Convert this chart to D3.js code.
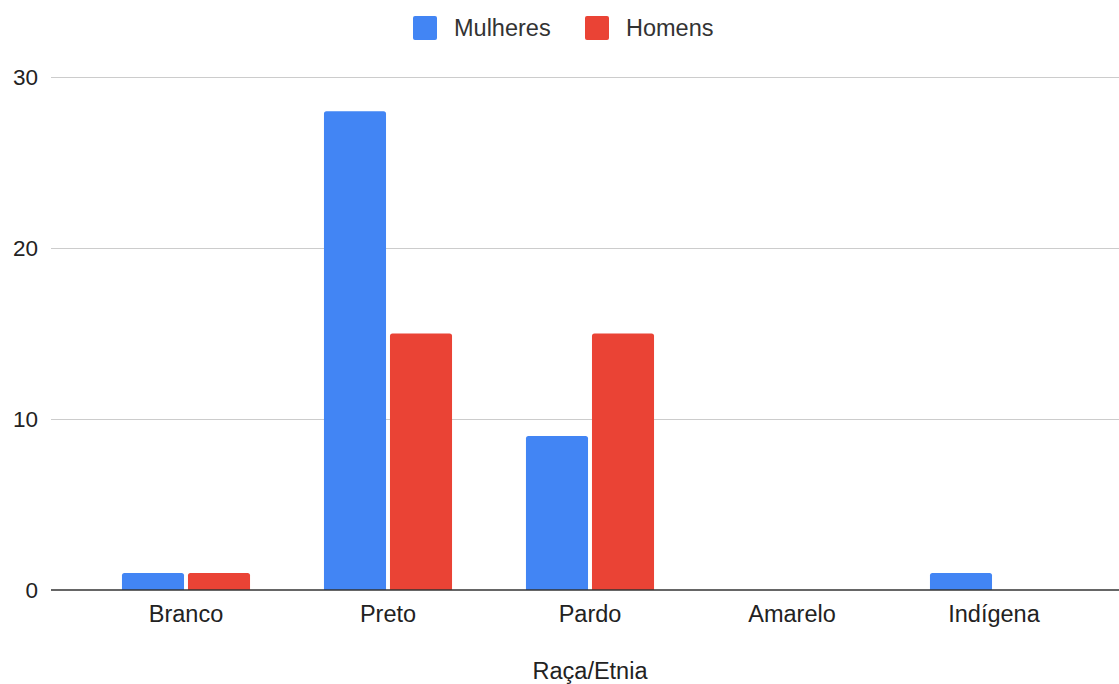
<!DOCTYPE html>
<html>
<head>
<meta charset="utf-8">
<script src="https://cdnjs.cloudflare.com/ajax/libs/d3/7.8.5/d3.min.js"></script>
<style>
  html, body { margin: 0; padding: 0; background: #fff; }
  svg { display: block; font-family: "Liberation Sans", Arial, sans-serif; }
</style>
</head>
<body>
<svg id="chart" width="1119" height="684"></svg>
<script>
// Number of people by race/ethnicity, split by gender
const categories = ["Branco", "Preto", "Pardo", "Amarelo", "Indígena"];
const seriesNames = ["Mulheres", "Homens"];
const mulheres = [1, 28, 9, 0, 1];
const homens = [1, 15, 15, 0, 0];
const yTicks = [0, 10, 20, 30];
const colors = ["#4285F4", "#EA4335"];
const axisTitle = "Raça/Etnia";

const seriesValues = [mulheres, homens];

const svg = d3.select("#chart");

const plot = { left: 51, right: 1119, top: 77, bottom: 590 };

const y = d3.scaleLinear().domain([0, 30]).range([plot.bottom, plot.top]);

const x0 = d3.scaleBand()
  .domain(categories)
  .range([85, 1095])
  .paddingInner(0.366)
  .paddingOuter(0.183);

const x1 = d3.scaleBand()
  .domain(seriesNames)
  .range([0, x0.bandwidth()])
  .paddingInner(0.06)
  .paddingOuter(0);

// gridlines
svg.append("g")
  .selectAll("line")
  .data(yTicks.filter(d => d !== 0))
  .join("line")
  .attr("x1", plot.left).attr("x2", plot.right)
  .attr("y1", d => Math.round(y(d)) + 0.5)
  .attr("y2", d => Math.round(y(d)) + 0.5)
  .attr("stroke", "#cccccc")
  .attr("stroke-width", 1);

// y tick labels
svg.append("g")
  .selectAll("text")
  .data(yTicks)
  .join("text")
  .attr("x", 38)
  .attr("y", d => y(d))
  .attr("dy", "0.35em")
  .attr("text-anchor", "end")
  .attr("font-size", 22.5)
  .attr("fill", "#222")
  .text(d => d);

// bars with slightly rounded top corners
function barPath(xp, w, yTop, yBase, r) {
  const h = yBase - yTop;
  if (h <= 0) return "";
  const rr = Math.min(r, h, w / 2);
  return `M${xp},${yBase}V${yTop + rr}Q${xp},${yTop} ${xp + rr},${yTop}` +
    `H${xp + w - rr}Q${xp + w},${yTop} ${xp + w},${yTop + rr}V${yBase}Z`;
}

const groups = svg.append("g")
  .selectAll("g")
  .data(categories)
  .join("g")
  .attr("transform", d => `translate(${x0(d)},0)`);

groups.selectAll("path")
  .data((c, i) => seriesNames.map((s, j) => ({ s, j, v: seriesValues[j][i] })))
  .join("path")
  .attr("d", d => barPath(x1(d.s), x1.bandwidth(), y(d.v), y(0), 2.5))
  .attr("fill", d => colors[d.j]);

// baseline
svg.append("line")
  .attr("x1", plot.left).attr("x2", plot.right)
  .attr("y1", y(0)).attr("y2", y(0))
  .attr("stroke", "#333")
  .attr("stroke-width", 1.5);

// x category labels
svg.append("g")
  .selectAll("text")
  .data(categories)
  .join("text")
  .attr("x", d => x0(d) + x0.bandwidth() / 2)
  .attr("y", 622)
  .attr("text-anchor", "middle")
  .attr("font-size", 23.5)
  .attr("fill", "#222")
  .text(d => d);

// axis title
svg.append("text")
  .attr("x", 590)
  .attr("y", 679)
  .attr("text-anchor", "middle")
  .attr("font-size", 23.5)
  .attr("fill", "#222")
  .text(axisTitle);

// legend
const legendX = [413, 585];
const legend = svg.append("g")
  .selectAll("g")
  .data(seriesNames)
  .join("g")
  .attr("transform", (d, i) => `translate(${legendX[i]},16)`);

legend.append("rect")
  .attr("width", 24).attr("height", 24)
  .attr("rx", 2)
  .attr("fill", (d, i) => colors[i]);

legend.append("text")
  .attr("x", 41)
  .attr("y", 12)
  .attr("dy", "0.35em")
  .attr("font-size", 23.5)
  .attr("fill", "#333")
  .text(d => d);
</script>
</body>
</html>
